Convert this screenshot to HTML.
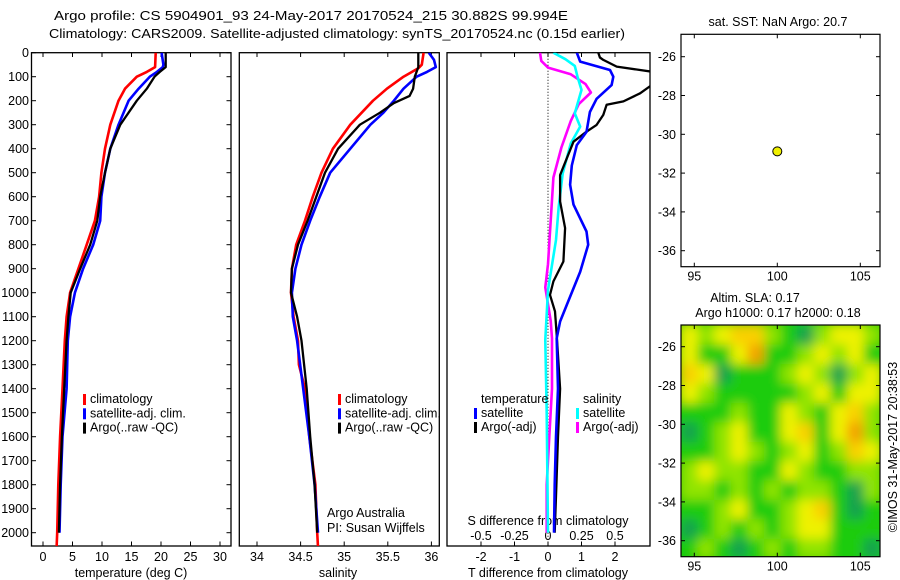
<!DOCTYPE html>
<html><head><meta charset="utf-8">
<style>
body{margin:0;background:#fff;}
svg{display:block;font-family:"Liberation Sans",sans-serif;}
</style></head>
<body>
<svg id="c" width="900" height="580" viewBox="0 0 900 580" xmlns="http://www.w3.org/2000/svg">
<text x="311" y="20" font-size="13" text-anchor="middle" textLength="514" lengthAdjust="spacingAndGlyphs">Argo profile: CS 5904901_93 24-May-2017 20170524_215 30.882S 99.994E</text>
<text x="337" y="38" font-size="13" text-anchor="middle" textLength="576" lengthAdjust="spacingAndGlyphs">Climatology: CARS2009. Satellite-adjusted climatology: synTS_20170524.nc (0.15d earlier)</text>
<defs>
<clipPath id="cp1"><rect x="31.5" y="52.7" width="199.5" height="493.3"/></clipPath>
<clipPath id="cp2"><rect x="239.3" y="52.7" width="200" height="493.3"/></clipPath>
<clipPath id="cp3"><rect x="447" y="52.7" width="203" height="493.3"/></clipPath>
<clipPath id="cpm"><rect x="681" y="325" width="199" height="231.7"/></clipPath>
<filter id="bl" x="-10%" y="-10%" width="120%" height="120%"><feGaussianBlur stdDeviation="5.5"/></filter>
</defs>
<g id="g"></g>
</svg>
<script>
// ---- data ----
const tDepthClim=[0,60,80,100,150,200,300,400,500,600,700,800,900,1000,1100,1200,1400,1600,1800,2000,2060];
const tempClim=[19.1,19.0,17.6,15.9,13.9,12.8,11.4,10.5,9.9,9.5,8.8,7.4,6.0,4.6,4.0,3.7,3.3,2.9,2.6,2.4,2.3];
const tDepthSat=[0,50,60,80,100,150,200,300,400,500,600,700,800,900,1000,1100,1200,1400,1600,1800,2000];
const tempSat=[20.1,20.4,20.3,19.3,18.1,16.2,14.5,12.8,11.4,10.5,9.9,9.7,8.5,6.8,5.4,4.6,4.2,4.0,3.3,3.0,2.8];
const tDepthArgo=[0,60,80,100,150,200,300,400,500,600,700,800,900,1000,1100,1200,1400,1600,1800,2000];
const tempArgo=[20.8,20.8,19.8,18.9,17.6,15.9,13.1,11.4,10.5,9.7,9.2,8.0,6.3,4.7,4.3,4.0,3.6,3.2,2.9,2.7];
const sDepthClim=[0,50,65,100,150,200,300,400,500,600,700,800,900,1000,1100,1200,1300,1400,1600,1800,2000,2060];
const salClim=[35.91,35.89,35.85,35.68,35.49,35.33,35.07,34.87,34.74,34.64,34.55,34.45,34.40,34.39,34.42,34.47,34.48,34.55,34.60,34.67,34.69,34.70];
const sDepthSat=[0,30,60,80,100,150,200,250,300,400,500,600,700,800,900,1000,1100,1200,1400,1600,1800,2000];
const salSat=[35.97,36.03,36.05,35.95,35.83,35.68,35.57,35.45,35.30,35.07,34.84,34.72,34.61,34.51,34.44,34.40,34.41,34.46,34.53,34.60,34.66,34.70];
const sDepthArgo=[0,60,100,150,180,210,250,300,400,500,600,700,800,900,1000,1100,1200,1400,1600,1800,2000];
const salArgo=[35.85,35.85,35.81,35.79,35.75,35.57,35.41,35.18,34.93,34.78,34.68,34.58,34.47,34.40,34.39,34.46,34.51,34.57,34.61,34.66,34.69];
const dtDepthSat=[0,37,72,100,135,192,247,330,385,470,550,633,745,800,913,1051,1120,1190,1400,1600,1800,2000];
const dtSat=[0.86,0.96,1.85,1.95,1.90,1.45,1.25,1.15,0.86,0.71,0.66,0.76,1.15,1.20,0.96,0.56,0.36,0.26,0.30,0.24,0.20,0.18];
const dtDepthArgo=[0,20,30,58,72,79,134,169,203,217,259,301,329,371,440,510,620,731,870,953,1009,1078,1175,1400,1600,1800,2000];
const dtArgo=[1.50,1.55,1.65,2.05,2.75,3.1,3.1,2.75,2.25,1.75,1.65,1.45,1.15,0.76,0.56,0.36,0.36,0.51,0.46,0.16,0.06,0.21,0.26,0.36,0.30,0.25,0.20];
const dsDepthSat=[0,27,55,100,155,253,308,378,503,642,780,989,1197,1500,2000];
const dsSat=[0.04,0.13,0.20,0.22,0.25,0.20,0.24,0.17,0.11,0.08,0.06,0.0,-0.02,-0.01,0.0];
const dsDepthArgo=[0,34,62,90,131,166,214,284,395,520,700,881,978,1117,1190,1400,1600,1800,2000];
const dsArgo=[-0.06,-0.05,0.0,0.17,0.28,0.32,0.23,0.17,0.10,0.04,0.02,0.0,-0.02,0.02,0.03,0.03,0.01,-0.01,-0.01];
const depthTicks=[0,100,200,300,400,500,600,700,800,900,1000,1100,1200,1300,1400,1500,1600,1700,1800,1900,2000];
const tempTicks=[0,5,10,15,20,25,30];
const salTicks=[34,34.5,35,35.5,36];
const dtTicks=[-2,-1,0,1,2];
const dsTicks=[-0.5,-0.25,0,0.25,0.5];
const dsTickLabels=["-0.5","-0.25","0","0.25","0.5"];
const latTicks=[-26,-28,-30,-32,-34,-36];
const lonTicks=[95,100,105];
const argoLon=[100.0];
const argoLat=[-30.88];
// SLA map grid (12 cols x 12 rows), level 0 teal .. 5 orange
const slaGrid=[
[3,2,3,4,4,2,1,0,2,3,3,2],
[3,1,1,3,5,1,1,2,3,2,3,1],
[4,3,0,1,1,1,2,3,2,0,2,3],
[3,2,1,1,1,1,1,2,3,1,3,3],
[1,1,1,2,1,1,3,2,1,3,4,2],
[0,1,2,3,1,1,3,4,1,3,5,2],
[1,1,2,3,2,1,2,3,1,2,4,3],
[2,3,2,2,1,1,3,2,1,1,2,2],
[2,2,1,2,1,2,1,2,2,1,0,2],
[1,1,2,3,1,1,2,3,4,1,0,1],
[0,1,2,1,2,1,2,3,3,1,1,1],
[1,2,1,0,1,2,1,2,2,1,1,0]];
const slaColors=["#17a050","#1ccc10","#90e400","#eef200","#fad000","#f4a000"];

// ---- scales ----
const yD=d=>52.7+d*0.24;
const xT=t=>43+t*5.9;
const xS=s=>257+(s-34)*87.2;
const xDT=t=>548+t*33.5;
const xDS=s=>548+s*134;
const mx=l=>694.3+(l-95)*16.6;
const myTop=la=>56.7+(-26-la)*19.4;
const myBot=la=>346.7+(-26-la)*19.4;

const NS="http://www.w3.org/2000/svg";
const G=document.getElementById('g');
function el(tag,attrs,parent){const e=document.createElementNS(NS,tag);for(const k in attrs)e.setAttribute(k,attrs[k]);(parent||G).appendChild(e);return e;}
function txt(x,y,s,size,anchor){const e=el('text',{x:x,y:y,'font-size':size,'text-anchor':anchor||'middle'});e.textContent=s;return e;}

// panel boxes
const boxes=[[31.5,231,'temperature-panel'],[239.3,439.3,'salinity-panel'],[447,650,'difference-panel']];
for(const b of boxes){
 const r=el('rect',{x:b[0],y:52.7,width:b[1]-b[0],height:546-52.7,fill:'none',stroke:'#000','stroke-width':1.3});
 
 
}
// depth ticks and labels
for(const d of depthTicks){
 const y=yD(d);
 el('line',{x1:31.5,x2:36,y1:y,y2:y,stroke:'#000'});
 el('line',{x1:226.5,x2:231,y1:y,y2:y,stroke:'#000'});
 const t=txt(29,y+4.5,String(d),12.5,'end');
 
 
}
function xticks(ticks,f,labels,ly){
 ticks.forEach((v,i)=>{const x=f(v);
  el('line',{x1:x,x2:x,y1:52.7,y2:57,stroke:'#000'});
  el('line',{x1:x,x2:x,y1:541.5,y2:546,stroke:'#000'});
  const t=txt(x,ly,labels?labels[i]:String(v),12.5);
  
  
 });
}
xticks(tempTicks,xT,null,561);
xticks(salTicks,xS,null,561);
xticks(dtTicks,xDT,null,561);
dsTicks.forEach((v,i)=>{const t=txt(xDS(v),540,dsTickLabels[i],12.5);
 
 });

let t;
t=txt(131,577,'temperature (deg C)',12.5);
t=txt(338,577,'salinity',12.5);
t=txt(548,577,'T difference from climatology',12.5);
t=txt(548,525,'S difference from climatology',12.5);
t=txt(327,517,'Argo Australia',12.5,'start');
t=txt(327,532,'PI: Susan Wijffels',12.5,'start');

// zero line
const z=el('line',{x1:548,x2:548,y1:52.7,y2:546,stroke:'#000','stroke-dasharray':'1,2'});


function series(depths,vals,fx,color,w,clip,name){
 const pts=depths.map((d,i)=>fx(vals[i]).toFixed(1)+','+yD(d).toFixed(1)).join(' ');
 const p=el('polyline',{points:pts,fill:'none',stroke:color,'stroke-width':w,'clip-path':'url(#'+clip+')','stroke-linejoin':'round'});
 
 
}
series(tDepthClim,tempClim,xT,'#f00',2.6,'cp1','temp-climatology-line');
series(tDepthSat,tempSat,xT,'#00f',2.6,'cp1','temp-satellite-line');
series(tDepthArgo,tempArgo,xT,'#000',2.3,'cp1','temp-argo-line');
series(sDepthClim,salClim,xS,'#f00',2.6,'cp2','sal-climatology-line');
series(sDepthSat,salSat,xS,'#00f',2.6,'cp2','sal-satellite-line');
series(sDepthArgo,salArgo,xS,'#000',2.3,'cp2','sal-argo-line');
series(dsDepthArgo,dsArgo,xDS,'#f0f',2.6,'cp3','sdiff-argo-line');
series(dsDepthSat,dsSat,xDS,'#0ff',2.6,'cp3','sdiff-satellite-line');
series(dtDepthArgo,dtArgo,xDT,'#000',2.3,'cp3','tdiff-argo-line');
series(dtDepthSat,dtSat,xDT,'#00f',2.6,'cp3','tdiff-satellite-line');

// legends
function leg(x,y,color,label,name){
 const r=el('rect',{x:x,y:y-9,width:3,height:11,fill:color});
 
 const tt=txt(x+7,y,label,12.5,'start');
 
}
[[ '#f00','climatology'],['#00f','satellite-adj. clim.'],['#000','Argo(..raw -QC)']].forEach((e,i)=>{
 leg(83,403+i*14.3,e[0],e[1],'legend-entry-temp');
 leg(338,403+i*14.3,e[0],e[1],'legend-entry-sal');
});
t=txt(481,403,'temperature',12.5,'start');
t=txt(583,403,'salinity',12.5,'start');
leg(474,417,'#00f','satellite','legend-entry-tdiff-sat');
leg(474,431,'#000','Argo(-adj)','legend-entry-tdiff-argo');
leg(576,417,'#0ff','satellite','legend-entry-sdiff-sat');
leg(576,431,'#f0f','Argo(-adj)','legend-entry-sdiff-argo');

// ---- maps ----
function mapAxes(top,bot,fy,name){
 const r=el('rect',{x:681,y:top,width:199,height:bot-top,fill:'none',stroke:'#000','stroke-width':1.2});
 
 for(const la of latTicks){const y=fy(la);
  el('line',{x1:681,x2:685,y1:y,y2:y,stroke:'#000'});el('line',{x1:876,x2:880,y1:y,y2:y,stroke:'#000'});
  const tt=txt(676,y+4.5,String(la),12.5,'end');}
 for(const lo of lonTicks){const x=mx(lo);
  el('line',{x1:x,x2:x,y1:top,y2:top+4,stroke:'#000'});el('line',{x1:x,x2:x,y1:bot-4,y2:bot,stroke:'#000'});
  const tt=txt(x,bot+14,String(lo),12.5);}
}
// SLA heatmap
const hg=el('g',{'clip-path':'url(#cpm)'});
const hb=el('g',{filter:'url(#bl)'},hg);
const lonL=94.2,lonR=106.2,latT=-24.9,latB=-36.9;
const nC=slaGrid[0].length,nR=slaGrid.length;
el('rect',{x:660,y:305,width:240,height:270,fill:'#1ccc10'},hb);
slaGrid.forEach((row,i)=>row.forEach((v,j)=>{
 const x0=mx(lonL+(lonR-lonL)*j/nC),x1=mx(lonL+(lonR-lonL)*(j+1)/nC);
 const y0=myBot(latT+(latB-latT)*i/nR),y1=myBot(latT+(latB-latT)*(i+1)/nR);
 const c=el('rect',{x:x0,y:y0,width:x1-x0+0.5,height:y1-y0+0.5,fill:slaColors[v]},hb);
 
 
}));
mapAxes(34.3,266.7,myTop,'sst-map');
mapAxes(325,556.7,myBot,'sla-map');
argoLon.forEach((lo,i)=>{
 const c=el('circle',{cx:mx(lo),cy:myTop(argoLat[i]),r:4.5,fill:'#f0f000',stroke:'#000','stroke-width':1});
 
 
});
t=txt(778,26,'sat. SST: NaN Argo: 20.7',12.5);
t=txt(755,302,'Altim. SLA: 0.17',12.5);
t=txt(778,317,'Argo h1000: 0.17 h2000: 0.18',12.5);
t=txt(0,0,'©IMOS 31-May-2017 20:38:53',12.5);
t.setAttribute('transform','translate(897,447) rotate(-90)');

</script>
</body></html>
